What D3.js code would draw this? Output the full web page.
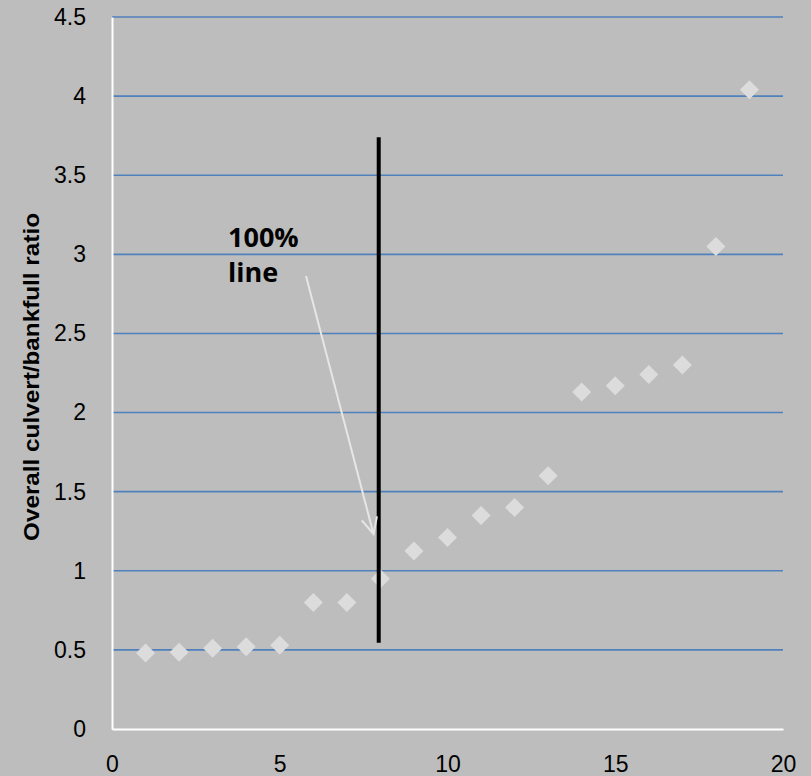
<!DOCTYPE html>
<html>
<head>
<meta charset="utf-8">
<script src="https://cdn.jsdelivr.net/npm/d3@7/dist/d3.min.js"></script>
<style>
html,body{margin:0;padding:0;background:#bdbdbd;}
svg{display:block;}
</style>
</head>
<body>
<svg id="chart" width="811" height="776"></svg>
<script>
const xValues = [1,2,3,4,5,6,7,8,9,10,11,12,13,14,15,16,17,18,19];
const yValues = [0.48,0.485,0.51,0.52,0.53,0.80,0.80,0.95,1.125,1.21,1.35,1.40,1.60,2.13,2.17,2.24,2.30,3.05,4.04];
const xTicks = [0,5,10,15,20];
const yTicks = [0,0.5,1,1.5,2,2.5,3,3.5,4,4.5];
const refLineX = [7.95];
const refLineY = [0.545, 3.74];
const annotationLines = ["100%", "line"];
const yTitle = "Overall culvert/bankfull ratio";

const svg = d3.select("#chart");
const W = 811, H = 776;
const m = {left:112, right:28, top:17, bottom:47};
const x = d3.scaleLinear().domain([0,20]).range([m.left, W - m.right]);
const y = d3.scaleLinear().domain([0,4.5]).range([H - m.bottom, m.top]);

svg.append("rect").attr("width",W).attr("height",H).attr("fill","#bdbdbd");

// gridlines
svg.append("g").selectAll("line").data(yTicks.filter(d=>d>0)).join("line")
  .attr("x1", x(0)).attr("x2", x(20))
  .attr("y1", d=>y(d)).attr("y2", d=>y(d))
  .attr("stroke","#4f81bd").attr("stroke-width",1.6);

// axes
const yAxis = d3.axisLeft(y).tickValues(yTicks).tickSize(0).tickPadding(26).tickFormat(d3.format("~g"));
const gy = svg.append("g").attr("transform",`translate(${x(0)},0)`).call(yAxis);
gy.select(".domain").attr("stroke","#ffffff").attr("stroke-width",2);
gy.selectAll("text").attr("font-family","Liberation Sans, Arial, sans-serif").style("font-size","23px").attr("fill","#000");

const xAxis = d3.axisBottom(x).tickValues(xTicks).tickSize(0).tickPadding(27).tickFormat(d3.format("~g"));
const gx = svg.append("g").attr("transform",`translate(0,${y(0)})`).call(xAxis);
gx.select(".domain").attr("stroke","#ffffff").attr("stroke-width",2);
gx.selectAll("text").attr("font-family","Liberation Sans, Arial, sans-serif").style("font-size","23px").attr("fill","#000");

// y title
svg.append("text")
  .attr("transform",`translate(39,377) rotate(-90)`)
  .attr("text-anchor","middle")
  .attr("font-family","Liberation Sans, Arial, sans-serif")
  .attr("font-weight","bold").style("font-size","22px")
  .attr("textLength",328).attr("lengthAdjust","spacingAndGlyphs")
  .attr("fill","#000")
  .text(yTitle);

// data points
const sym = d3.symbol().type(d3.symbolDiamond2).size(230);
svg.append("g").selectAll("path").data(xValues.map((v,i)=>[v,yValues[i]])).join("path")
  .attr("d", sym)
  .attr("transform", d=>`translate(${x(d[0])},${y(d[1])})`)
  .attr("fill","#dcdcdc");

// reference line
svg.append("line")
  .attr("x1", x(refLineX[0])).attr("x2", x(refLineX[0]))
  .attr("y1", y(refLineY[0])).attr("y2", y(refLineY[1]))
  .attr("stroke","#000").attr("stroke-width",4);

// annotation text
const ann = svg.append("text")
  .attr("font-family","Open Sans, sans-serif").attr("font-weight","bold")
  .style("font-size","27px").attr("fill","#000");
ann.selectAll("tspan").data(annotationLines).join("tspan")
  .attr("x",228).attr("y",(d,i)=>247 + i*35).text(d=>d);

// arrow
const ax1 = 306, ay1 = 276, ax2 = 373.5, ay2 = 534;
svg.append("line").attr("x1",ax1).attr("y1",ay1).attr("x2",ax2).attr("y2",ay2)
  .attr("stroke","#e6e6e6").attr("stroke-width",2);
const ang = Math.atan2(ay2-ay1, ax2-ax1);
const hl = 18, ha = 0.45;
svg.append("path")
  .attr("d", `M${ax2 - hl*Math.cos(ang-ha)},${ay2 - hl*Math.sin(ang-ha)} L${ax2},${ay2} L${ax2 - hl*Math.cos(ang+ha)},${ay2 - hl*Math.sin(ang+ha)}`)
  .attr("fill","none").attr("stroke","#e6e6e6").attr("stroke-width",2);
</script>
</body>
</html>
